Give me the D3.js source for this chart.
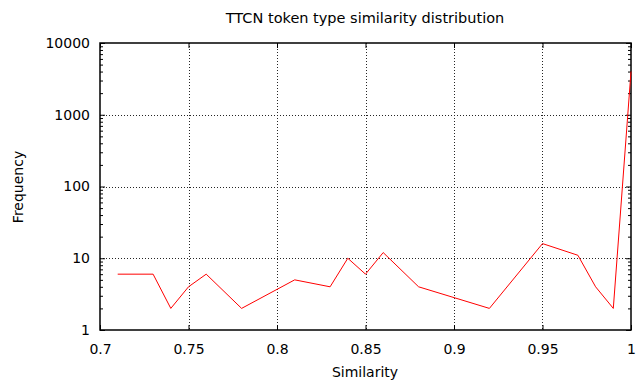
<!DOCTYPE html>
<html>
<head>
<meta charset="utf-8">
<script src="https://cdn.jsdelivr.net/npm/d3@7"></script>
<style>
  html, body { margin: 0; padding: 0; background: #fff; }
  svg text { font-family: "DejaVu Sans", sans-serif; fill: #000; }
</style>
</head>
<body>
<svg id="chart" width="639" height="380"></svg>
<script>
// Similarity values and their frequencies
const similarity = [0.71, 0.73, 0.74, 0.75, 0.76, 0.78, 0.81, 0.83, 0.84, 0.85, 0.86, 0.88, 0.92, 0.95, 0.97, 0.98, 0.99, 1.0];
const frequency  = [6, 6, 2, 4, 6, 2, 5, 4, 10, 6, 12, 4, 2, 16, 11, 4, 2, 4000];

const xTicks = [0.7, 0.75, 0.8, 0.85, 0.9, 0.95, 1];
const xTickLabels = ["0.7", "0.75", "0.8", "0.85", "0.9", "0.95", "1"];
const yTicks = [1, 10, 100, 1000, 10000];
const yTickLabels = ["1", "10", "100", "1000", "10000"];

const titleText = "TTCN token type similarity distribution";
const xLabel = "Similarity";
const yLabel = "Frequency";

const svg = d3.select("#chart");
const plotL = 100, plotR = 631, plotT = 43, plotB = 330;

const x = d3.scaleLinear().domain([0.7, 1.0]).range([plotL, plotR]);
const y = d3.scaleLog().domain([1, 10000]).range([plotB, plotT]);

// minor ticks per decade
const minor = [];
for (let d = 1; d < 10000; d *= 10) for (let k = 2; k <= 9; k++) minor.push(d * k);

// grid
const grid = svg.append("g").attr("stroke", "#000").attr("stroke-width", 1)
  .attr("stroke-dasharray", "1,2").attr("opacity", 0.85);
xTicks.slice(1, -1).forEach(v => {
  grid.append("line").attr("x1", Math.round(x(v)) + 0.5).attr("x2", Math.round(x(v)) + 0.5)
    .attr("y1", plotT).attr("y2", plotB);
});
yTicks.slice(1, -1).forEach(v => {
  grid.append("line").attr("y1", Math.round(y(v)) + 0.5).attr("y2", Math.round(y(v)) + 0.5)
    .attr("x1", plotL).attr("x2", plotR);
});

// axes with inward ticks on all four sides
const axL = d3.axisLeft(y).tickValues(yTicks).tickSize(-5).tickFormat((d, i) => yTickLabels[i]).tickPadding(10);
const axR = d3.axisRight(y).tickValues(yTicks).tickSize(-5).tickFormat("");
const axB = d3.axisBottom(x).tickValues(xTicks).tickSize(-5).tickFormat((d, i) => xTickLabels[i]).tickPadding(14);
const axT = d3.axisTop(x).tickValues(xTicks).tickSize(-5).tickFormat("");
const mL = d3.axisLeft(y).tickValues(minor).tickSize(-3).tickFormat("");
const mR = d3.axisRight(y).tickValues(minor).tickSize(-3).tickFormat("");

function style(g) {
  g.selectAll(".domain").remove();
  g.selectAll("line").attr("stroke", "#000");
  g.selectAll("text").style("font-size", "14px").style("font-family", "DejaVu Sans, sans-serif");
}
svg.append("g").attr("transform", `translate(${plotL},0)`).call(axL).call(style);
svg.append("g").attr("transform", `translate(${plotL},0)`).call(mL).call(style);
svg.append("g").attr("transform", `translate(${plotR},0)`).call(axR).call(style);
svg.append("g").attr("transform", `translate(${plotR},0)`).call(mR).call(style);
svg.append("g").attr("transform", `translate(0,${plotB})`).call(axB).call(style);
svg.append("g").attr("transform", `translate(0,${plotT})`).call(axT).call(style);

// frame
svg.append("rect").attr("x", plotL).attr("y", plotT).attr("width", plotR - plotL).attr("height", plotB - plotT)
  .attr("fill", "none").attr("stroke", "#000").attr("stroke-width", 1.5);

// data line
const line = d3.line().x((d, i) => x(similarity[i])).y((d, i) => y(frequency[i]));
svg.append("path").datum(frequency).attr("d", line)
  .attr("fill", "none").attr("stroke", "#ff0000").attr("stroke-width", 1);

// labels
svg.append("text").attr("x", 365).attr("y", 23).attr("text-anchor", "middle")
  .style("font-size", "14.5px").text(titleText);
svg.append("text").attr("x", 365).attr("y", 377).attr("text-anchor", "middle")
  .style("font-size", "14px").text(xLabel);
svg.append("text").attr("transform", "translate(23,187) rotate(-90)").attr("text-anchor", "middle")
  .style("font-size", "14px").text(yLabel);
</script>
</body>
</html>
